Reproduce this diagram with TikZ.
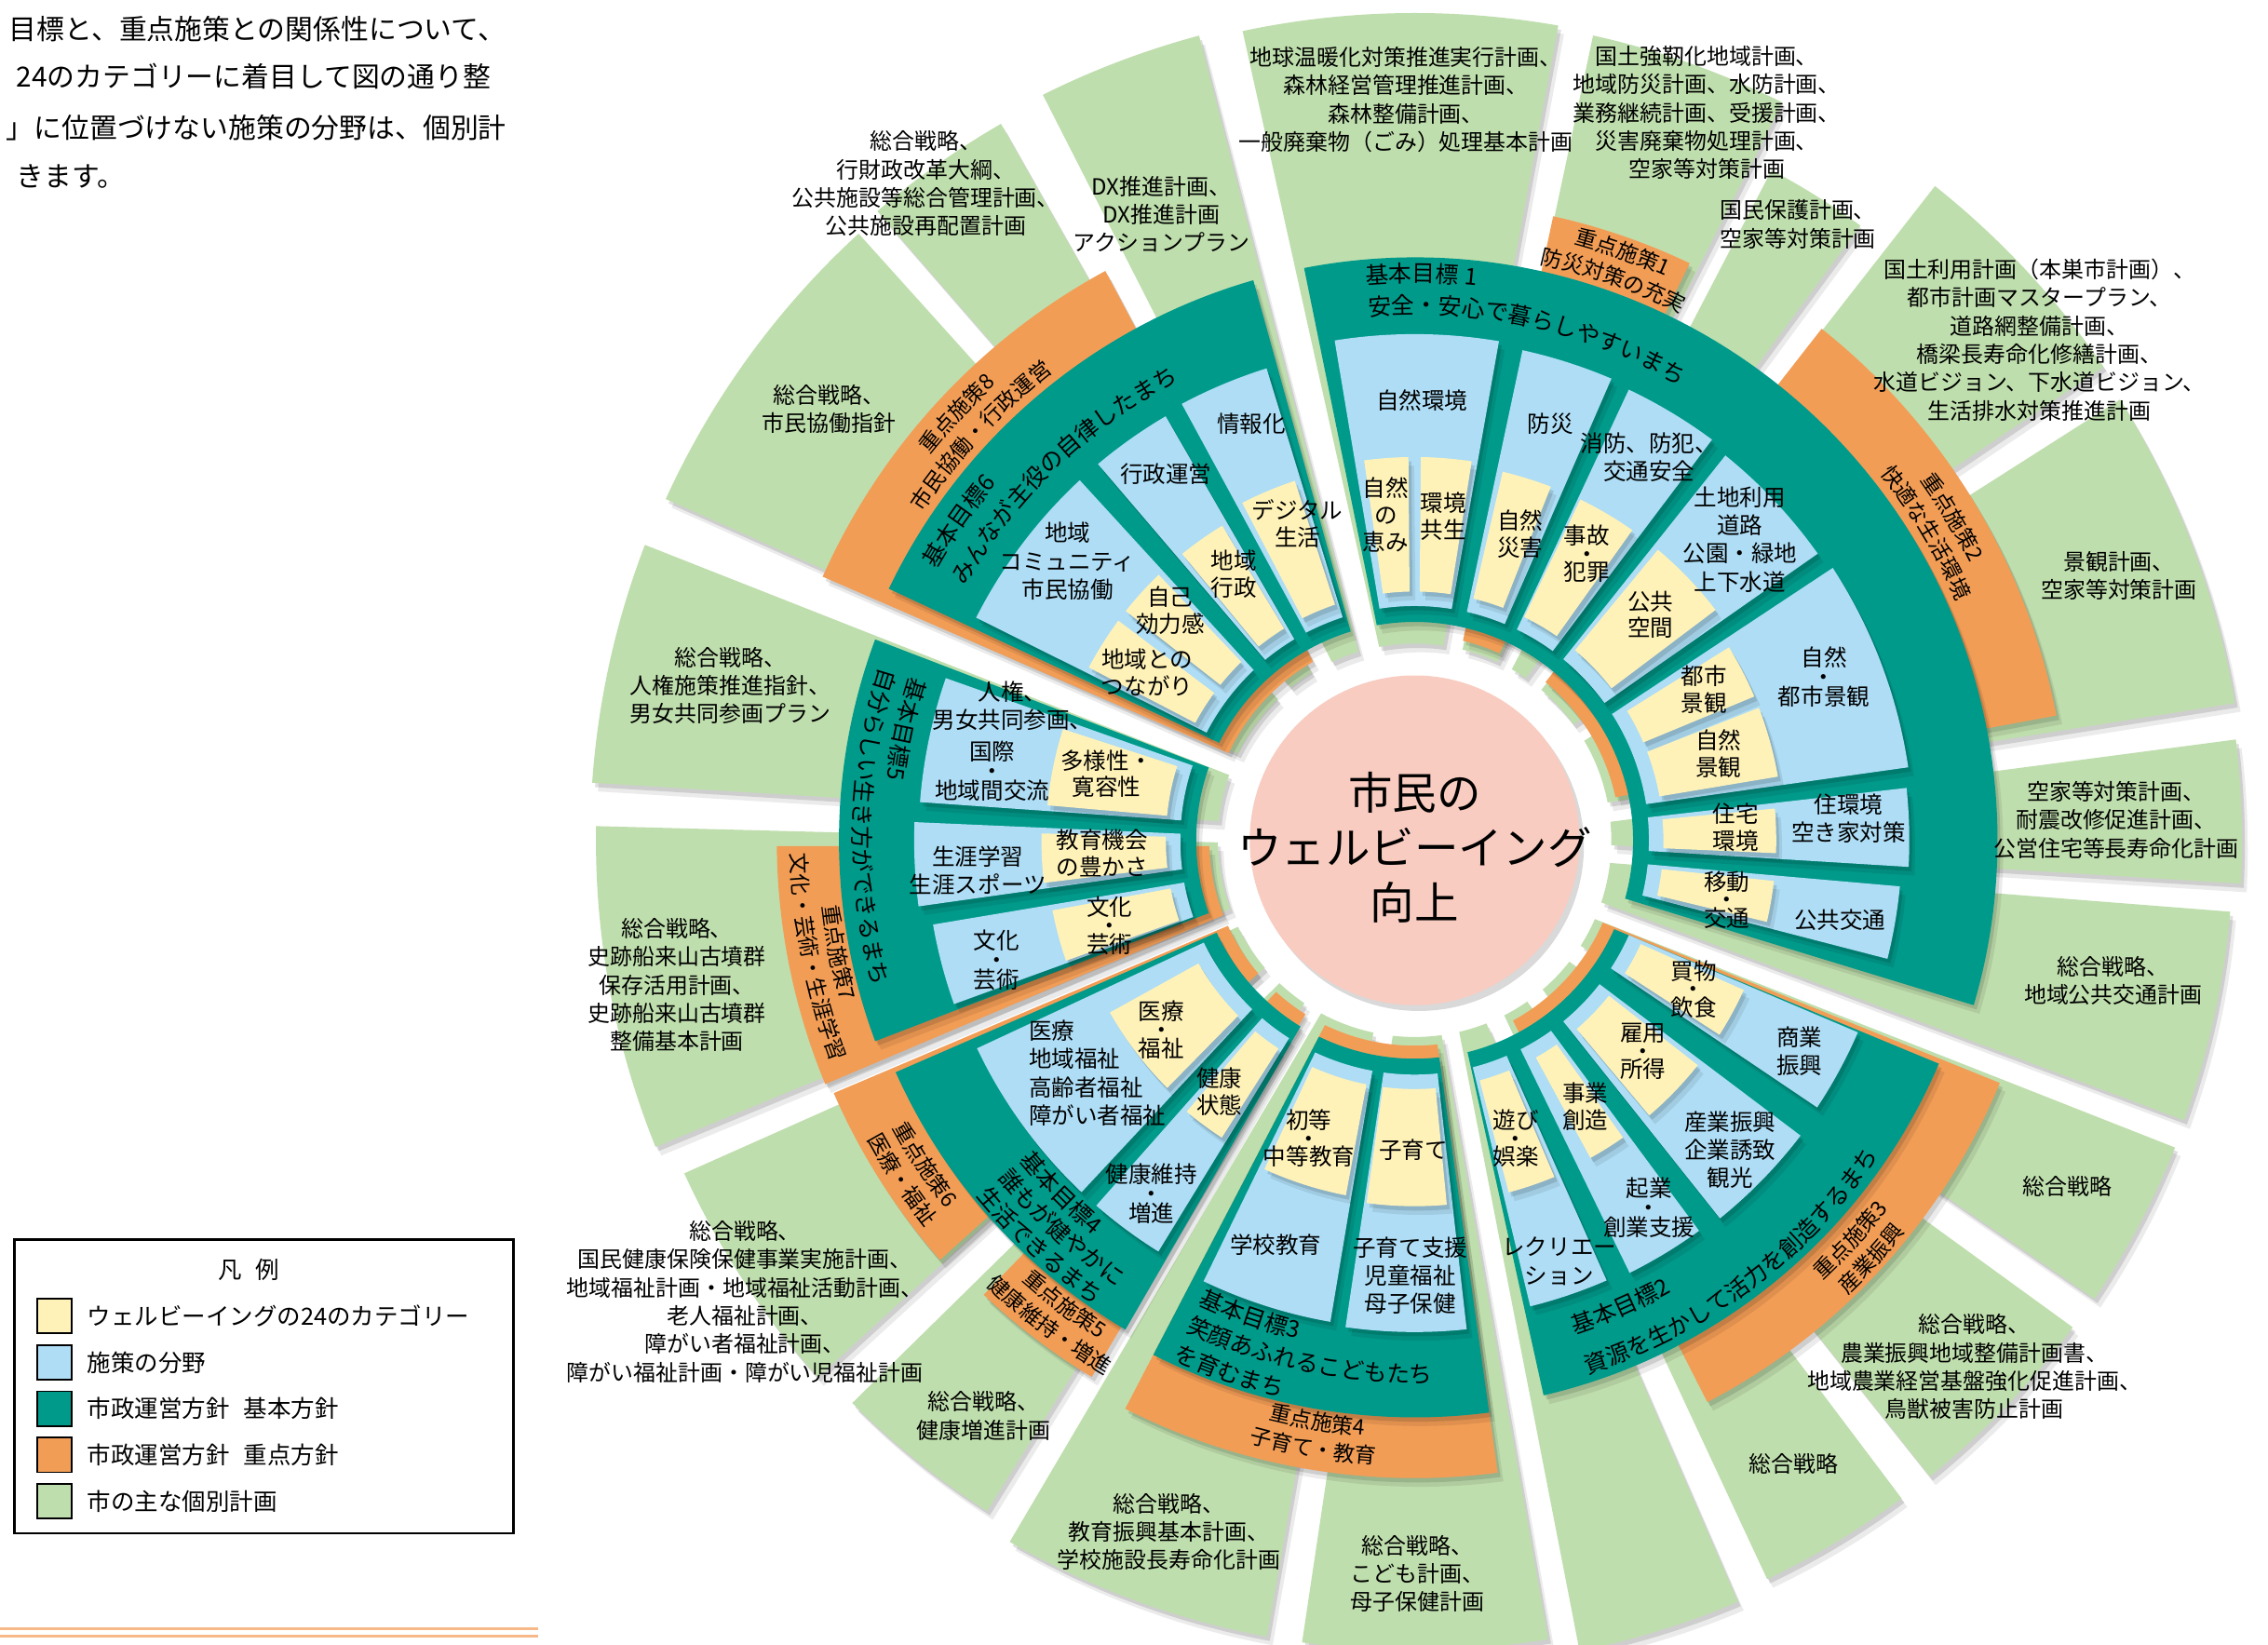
\documentclass[tikz,border=0pt]{standalone}
\usepackage{fontspec}
\setmainfont{Noto Sans CJK JP}
\usetikzlibrary{decorations.text}
\definecolor{cY}{HTML}{FFF2B8}
\definecolor{cB}{HTML}{AEDDF5}
\definecolor{cT}{HTML}{009A8A}
\definecolor{cO}{HTML}{F29D56}
\definecolor{cG}{HTML}{BFDEAD}
\definecolor{cP}{HTML}{F8CCC0}
\definecolor{cL}{HTML}{F7B98A}
\newcommand\sect[6]{%
  \pgfmathsetmacro\qAi{#2+asin(#6/#4)}%
  \pgfmathsetmacro\qAii{#3-asin(#6/#4)}%
  \pgfmathsetmacro\qBi{#2+asin(#6/#5)}%
  \pgfmathsetmacro\qBii{#3-asin(#6/#5)}%
  \fill[black,opacity=0.12,shift={(2,-3)}] (\qAi:#4) arc[start angle=\qAi,end angle=\qAii,radius=#4] -- (\qBii:#5) arc[start angle=\qBii,end angle=\qBi,radius=#5] -- cycle;
  \fill[black,opacity=0.08,shift={(4,-6)}] (\qAi:#4) arc[start angle=\qAi,end angle=\qAii,radius=#4] -- (\qBii:#5) arc[start angle=\qBii,end angle=\qBi,radius=#5] -- cycle;
  \fill[#1] (\qAi:#4) arc[start angle=\qAi,end angle=\qAii,radius=#4] -- (\qBii:#5) arc[start angle=\qBii,end angle=\qBi,radius=#5] -- cycle;
}
\newcommand\tfont{\fontsize{8}{10}\selectfont}
\newcommand\ofont{\fontsize{7.4}{9}\selectfont}
\newcommand\atext[5]{%
  \path[decorate,decoration={text along path,text align=#4,text={#5}}] (#1:#3) arc[start angle=#1,end angle=#2,radius=#3];
}
\tikzset{
  gl/.style={align=center,font=\fontsize{7.7}{9.75}\selectfont,inner sep=0pt},
  bl/.style={align=center,font=\fontsize{7.9}{9.75}\selectfont,inner sep=0pt},
  yl/.style={align=center,font=\fontsize{7.9}{9.3}\selectfont,inner sep=0pt},
  intro/.style={anchor=west,font=\fontsize{9.6}{11}\selectfont,inner sep=0pt},
  lgt/.style={anchor=west,font=\fontsize{8.2}{10}\selectfont,inner sep=0pt},
  sw/.style={draw=black,line width=0.6pt,minimum size=12pt,inner sep=0pt},
}
\begin{document}
\begin{tikzpicture}[x=0.5pt,y=0.5pt]
\useasboundingbox (0,0) rectangle (1568,1137);
\fill[white] (0,0) rectangle (1568,1137);

% intro text
\node[intro] (intro1) at (6,1117) {目標と、重点施策との関係性について、};
\node[intro] (intro2) at (11,1084) {24のカテゴリーに着目して図の通り整};
\node[intro] (intro3) at (4,1049) {」に位置づけない施策の分野は、個別計};
\node[intro] (intro4) at (11,1015) {きます。};

% bottom rule
\draw[cL,line width=1pt] (0,11) -- (372,11);
\draw[cL,line width=1pt] (0,6) -- (372,6);

% legend
\draw[line width=0.7pt] (10,77) rectangle (355,280);
\node[font=\fontsize{8.2}{10}\selectfont,inner sep=0pt] (lgtitle) at (172,259) {凡\hspace{0.6em}例};
\node[sw,fill=cY] (sw1) at (37.5,227) {};
\node[sw,fill=cB] (sw2) at (37.5,195) {};
\node[sw,fill=cT] (sw3) at (37.5,163) {};
\node[sw,fill=cO] (sw4) at (37.5,131) {};
\node[sw,fill=cG] (sw5) at (37.5,99) {};
\node[lgt] (lt1) at (60,227) {ウェルビーイングの24のカテゴリー};
\node[lgt] (lt2) at (60,195) {施策の分野};
\node[lgt] (lt3) at (60,163) {市政運営方針\hspace{0.6em}基本方針};
\node[lgt] (lt4) at (60,131) {市政運営方針\hspace{0.6em}重点方針};
\node[lgt] (lt5) at (60,99) {市の主な個別計画};

\begin{scope}[shift={(978,556)}]
% green plans
\sect{cG}{-3.5}{7.5}{136}{572}{5}
\sect{cG}{-20.5}{-4.5}{136}{566}{5}
\sect{cG}{-34.5}{-21.5}{136}{567}{5}
\sect{cG}{-51.5}{-36}{136}{566}{5}
\sect{cG}{-65}{-53}{136}{566}{5}
\sect{cG}{-79}{-66.5}{136}{572}{5}
\sect{cG}{-98.5}{-80}{136}{560}{5}
\sect{cG}{-120.5}{-100}{136}{560}{5}
\sect{cG}{-135.5}{-122}{136}{550}{5}
\sect{cG}{-156}{-137.5}{136}{555}{5}
\sect{cG}{178.5}{202.5}{136}{566}{5}
\sect{cG}{158.5}{176.5}{136}{570}{5}
\sect{cG}{132}{156}{136}{569}{5}
\sect{cG}{119.5}{131}{136}{572}{5}
\sect{cG}{104.5}{117}{136}{576}{5}
\sect{cG}{79.5}{102.5}{136}{572}{5}
\sect{cG}{63}{78}{136}{570}{5}
\sect{cG}{53.5}{62.5}{136}{525}{5}
\sect{cG}{34}{52}{136}{578}{5}
\sect{cG}{9}{32.5}{136}{575}{5}
% orange
\sect{cO}{64}{78}{142}{442}{4}
\sect{cO}{10.5}{52}{142}{452}{4}
\sect{cO}{-63}{-22}{142}{438}{4}
\sect{cO}{-117.5}{-82}{142}{441}{4}
\sect{cO}{-134}{-120.5}{142}{433}{4}
\sect{cO}{-157}{-138}{142}{438}{4}
\sect{cO}{180}{203}{142}{441}{4}
\sect{cO}{118}{156.5}{142}{448}{4}
% teal
\sect{cT}{-17}{101.5}{151}{403}{4}
\sect{cT}{-77.5}{-22.5}{151}{394}{4}
\sect{cT}{-117.5}{-82}{151}{399}{4}
\sect{cT}{-156.5}{-120}{151}{393}{4}
\sect{cT}{159}{201}{151}{398}{4}
\sect{cT}{105.5}{155}{151}{403}{4}
% blue
\sect{cB}{80}{99.5}{162}{350}{2.5}
\sect{cB}{66.5}{78}{162}{347}{2.5}
\sect{cB}{53}{65}{162}{345}{2.5}
\sect{cB}{35}{51.5}{162}{342}{2.5}
\sect{cB}{8}{33.5}{162}{345}{2.5}
\sect{cB}{-3.5}{6.5}{162}{342}{2.5}
\sect{cB}{-14.5}{-5}{162}{337}{2.5}
\sect{cB}{-34}{-23}{162}{334}{2.5}
\sect{cB}{-51.5}{-37}{162}{336}{2.5}
\sect{cB}{-64}{-53.5}{162}{334}{2.5}
\sect{cB}{-76.5}{-66}{162}{332}{2.5}
\sect{cB}{-116}{-99.5}{162}{338}{2.5}
\sect{cB}{-98.5}{-83.5}{162}{340}{2.5}
\sect{cB}{-155}{-133}{162}{335}{2.5}
\sect{cB}{-131.5}{-121.5}{162}{335}{2.5}
\sect{cB}{160.5}{176}{162}{343}{2.5}
\sect{cB}{177.5}{188}{162}{346}{2.5}
\sect{cB}{189.5}{200}{162}{338}{2.5}
\sect{cB}{107}{118.5}{162}{342}{2.5}
\sect{cB}{120}{130.5}{162}{340}{2.5}
\sect{cB}{132.5}{153.5}{162}{340}{2.5}
% yellow
\sect{cY}{90.5}{98}{172}{265}{2}
\sect{cY}{81}{89.5}{172}{265}{2}
\sect{cY}{68.5}{77}{172}{262}{2}
\sect{cY}{54.5}{64.5}{172}{262}{2}
\sect{cY}{37}{50.5}{172}{262}{2}
\sect{cY}{22.5}{32}{172}{255}{2}
\sect{cY}{9.5}{21.5}{172}{255}{2}
\sect{cY}{-2.5}{5.5}{172}{250}{2}
\sect{cY}{-13.5}{-6}{172}{250}{2}
\sect{cY}{-33}{-24}{172}{250}{2}
\sect{cY}{-50}{-38}{172}{250}{2}
\sect{cY}{-61.5}{-54.5}{172}{251}{2}
\sect{cY}{-75.5}{-67}{172}{252}{2}
\sect{cY}{-115}{-100.5}{172}{250}{2}
\sect{cY}{-98}{-84.5}{172}{253}{2}
\sect{cY}{-151}{-134.5}{172}{242}{2}
\sect{cY}{-130.5}{-122.5}{172}{245}{2}
\sect{cY}{162}{175}{172}{255}{2}
\sect{cY}{178.5}{187}{172}{258}{2}
\sect{cY}{190.5}{199.5}{172}{255}{2}
\sect{cY}{108}{117.5}{172}{262}{2}
\sect{cY}{121}{129.5}{172}{255}{2}
\sect{cY}{133.5}{142}{172}{255}{2}
\sect{cY}{143}{152.5}{172}{255}{2}
% centre
\fill[black,opacity=0.15] (3,-4) circle[radius=114];
\fill[cP] (0,0) circle[radius=114];
\node[align=center,font=\fontsize{15.3}{19}\selectfont,inner sep=0pt] (core) at (0,-5) {市民の\\ウェルビーイング\\向上};
% basic goals
\atext{95}{10}{386}{left}{|\tfont|基本目標 1}
\atext{95}{10}{364}{left}{|\tfont|安全・安心で暮らしやすいまち}
\atext{150.5}{95}{380}{left}{|\tfont|基本目標6}
\atext{150.5}{95}{357}{left}{|\tfont|みんなが主役の自律したまち}
\atext{-72}{-5}{359}{left}{|\tfont|基本目標2}
\atext{-72}{-5}{388}{left}{|\tfont|資源を生かして活力を創造するまち}
\atext{-115}{-50}{354}{left}{|\tfont|基本目標3}
\atext{-115}{-50}{375}{left}{|\tfont|笑顔あふれるこどもたち}
\atext{-115}{-50}{396}{left}{|\tfont|を育むまち}
\atext{-141}{-90}{352}{left}{|\tfont|基本目標4}
\atext{-141}{-90}{371}{left}{|\tfont|誰もが健やかに}
\atext{-141}{-90}{390}{left}{|\tfont|生活できるまち}
\atext{162}{220}{367}{left}{|\tfont|基本目標5}
\atext{162}{220}{388}{left}{|\tfont|自分らしい生き方ができるまち}
% priority measures
\atext{100.5}{40.5}{427}{center}{|\ofont|重点施策1}
\atext{100.5}{40.5}{408}{center}{|\ofont|防災対策の充実}
\atext{61}{1}{429}{center}{|\ofont|重点施策2}
\atext{61}{1}{410}{center}{|\ofont|快適な生活環境}
\atext{167}{107}{428}{center}{|\ofont|重点施策8}
\atext{167}{107}{409}{center}{|\ofont|市民協働・行政運営}
\atext{-72.5}{-12.5}{415}{center}{|\ofont|重点施策3}
\atext{-72.5}{-12.5}{434}{center}{|\ofont|産業振興}
\atext{-129.5}{-69.5}{413}{center}{|\ofont|重点施策4}
\atext{-129.5}{-69.5}{432}{center}{|\ofont|子育て・教育}
\atext{-157}{-97}{408}{center}{|\ofont|重点施策5}
\atext{-157}{-97}{427}{center}{|\ofont|健康維持・増進}
\atext{-176.5}{-116.5}{412}{center}{|\ofont|重点施策6}
\atext{-176.5}{-116.5}{431}{center}{|\ofont|医療・福祉}
\atext{161}{221}{412}{center}{|\ofont|重点施策7}
\atext{161}{221}{431}{center}{|\ofont|文化・芸術・生涯学習}
\end{scope}

% green labels
\node[gl] (g1) at (972,1068) {地球温暖化対策推進実行計画、\\森林経営管理推進計画、\\森林整備計画、\\一般廃棄物（ごみ）処理基本計画};
\node[gl] (g2) at (1180,1059) {国土強靭化地域計画、\\地域防災計画、水防計画、\\業務継続計画、受援計画、\\災害廃棄物処理計画、\\空家等対策計画};
\node[gl] (g3) at (1243,982) {国民保護計画、\\空家等対策計画};
\node[gl] (g4) at (1410,902) {国土利用計画（本巣市計画）、\\都市計画マスタープラン、\\道路網整備計画、\\橋梁長寿命化修繕計画、\\水道ビジョン、下水道ビジョン、\\生活排水対策推進計画};
\node[gl] (g5) at (1465,739) {景観計画、\\空家等対策計画};
\node[gl] (g6) at (1463,570) {空家等対策計画、\\耐震改修促進計画、\\公営住宅等長寿命化計画};
\node[gl] (g7) at (1461,459) {総合戦略、\\地域公共交通計画};
\node[gl] (g8) at (1429,317) {総合戦略};
\node[gl] (g9) at (1365,192) {総合戦略、\\農業振興地域整備計画書、\\地域農業経営基盤強化促進計画、\\鳥獣被害防止計画};
\node[gl] (g10) at (1240,125) {総合戦略};
\node[gl] (g11) at (980,49) {総合戦略、\\こども計画、\\母子保健計画};
\node[gl] (g12) at (808,78) {総合戦略、\\教育振興基本計画、\\学校施設長寿命化計画};
\node[gl] (g13) at (680,158) {総合戦略、\\健康増進計画};
\node[gl] (g14) at (515,237) {総合戦略、\\国民健康保険保健事業実施計画、\\地域福祉計画・地域福祉活動計画、\\老人福祉計画、\\障がい者福祉計画、\\障がい福祉計画・障がい児福祉計画};
\node[gl] (g15) at (468,456) {総合戦略、\\史跡船来山古墳群\\保存活用計画、\\史跡船来山古墳群\\整備基本計画};
\node[gl] (g16) at (505,663) {総合戦略、\\人権施策推進指針、\\男女共同参画プラン};
\node[gl] (g17) at (573,854) {総合戦略、\\市民協働指針};
\node[gl] (g18) at (640,1010) {総合戦略、\\行財政改革大綱、\\公共施設等総合管理計画、\\公共施設再配置計画};
\node[gl] (g19) at (803,989) {DX推進計画、\\DX推進計画\\アクションプラン};

% blue labels
\node[bl] (b1) at (983,860) {自然環境};
\node[bl] (b2) at (1072,844) {防災};
\node[bl] (b3) at (1140,821) {消防、防犯、\\交通安全};
\node[bl] (b4) at (1203,764) {土地利用\\道路\\公園・緑地\\上下水道};
\node[bl] (b5) at (1261,669) {自然\\[-3pt]・\\[-3pt]都市景観};
\node[bl] (b6) at (1278,571) {住環境\\空き家対策};
\node[bl] (b7) at (1272,501) {公共交通};
\node[bl] (b8) at (1244,410) {商業\\振興};
\node[bl] (b9) at (1196,342) {産業振興\\企業誘致\\観光};
\node[bl] (b10) at (1140,302) {起業\\[-3pt]・\\[-3pt]創業支援};
\node[bl] (b11) at (1078,265) {レクリエー\\ション};
\node[bl] (b12) at (882,276) {学校教育};
\node[bl] (b13) at (975,255) {子育て支援\\児童福祉\\母子保健};
\node[bl,anchor=west,align=left] (b14) at (711,395) {医療\\地域福祉\\高齢者福祉\\障がい者福祉};
\node[bl] (b15) at (796,312) {健康維持\\[-3pt]・\\[-3pt]増進};
\node[bl] (b16) at (700,649) {人権、\\男女共同参画、};
\node[bl] (b17) at (686,604) {国際\\[-3pt]・\\[-3pt]地域間交流};
\node[bl] (b18) at (676,535) {生涯学習\\生涯スポーツ};
\node[bl] (b19) at (689,473) {文化\\[-3pt]・\\[-3pt]芸術};
\node[bl] (b20) at (738,749) {地域\\コミュニティ\\市民協働};
\node[bl] (b21) at (806,809) {行政運営};
\node[bl] (b22) at (865,844) {情報化};

% yellow labels
\node[yl] (y1) at (958,781) {自然\\の\\恵み};
\node[yl] (y2) at (998,780) {環境\\共生};
\node[yl] (y3) at (1051,768) {自然\\災害};
\node[yl] (y4) at (1097,754) {事故\\[-3pt]・\\[-3pt]犯罪};
\node[yl] (y5) at (1141,712) {公共\\空間};
\node[yl] (y6) at (1178,660) {都市\\景観};
\node[yl] (y7) at (1188,616) {自然\\景観};
\node[yl] (y8) at (1200,565) {住宅\\環境};
\node[yl] (y9) at (1194,515) {移動\\[-3pt]・\\[-3pt]交通};
\node[yl] (y10) at (1171,453) {買物\\[-3pt]・\\[-3pt]飲食};
\node[yl] (y11) at (1136,410) {雇用\\[-3pt]・\\[-3pt]所得};
\node[yl] (y12) at (1096,372) {事業\\創造};
\node[yl] (y13) at (1048,350) {遊び\\[-3pt]・\\[-3pt]娯楽};
\node[yl] (y14) at (905,350) {初等\\[-3pt]・\\[-3pt]中等教育};
\node[yl] (y15) at (977,342) {子育て};
\node[yl] (y16) at (803,425) {医療\\[-3pt]・\\[-3pt]福祉};
\node[yl] (y17) at (843,382) {健康\\状態};
\node[yl] (y18) at (765,602) {多様性・\\寛容性};
\node[yl] (y19) at (762,547) {教育機会\\の豊かさ};
\node[yl] (y20) at (767,497) {文化\\[-3pt]・\\[-3pt]芸術};
\node[yl] (y21) at (793,672) {地域との\\つながり};
\node[yl] (y22) at (809,715) {自己\\効力感};
\node[yl] (y23) at (853,740) {地域\\行政};
\node[yl] (y24) at (897,775) {デジタル\\生活};
\end{tikzpicture}
\end{document}
